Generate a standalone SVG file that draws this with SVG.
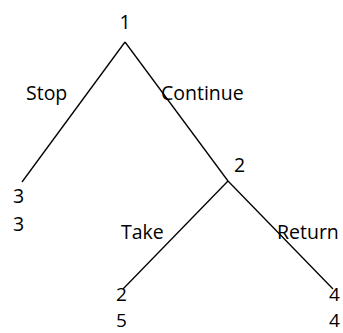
<svg xmlns="http://www.w3.org/2000/svg" width="343" height="333" viewBox="0 0 343 333">
<style>
text{font-family:"Open Sans","Liberation Sans",sans-serif;font-size:19.5px;fill:#000}
.leaf text{font-size:19px}
line{stroke:#000;stroke-width:1.3}
</style>
<rect width="343" height="333" fill="#fff"/>
<g id="connectors">
<line x1="125" y1="42" x2="22" y2="182"/>
<line x1="125" y1="42" x2="228" y2="181"/>
<line x1="228" y1="181" x2="123" y2="289"/>
<line x1="228" y1="181" x2="333" y2="289"/>
</g>
<g id="node1"><text x="125" y="29" text-anchor="middle">1</text></g>
<g id="label-stop"><text x="26" y="100">Stop</text></g>
<g id="label-continue"><text x="161" y="100">Continue</text></g>
<g id="node2"><text x="234" y="172">2</text></g>
<g id="leaf-stop"><text x="13" y="203">3</text><text x="13" y="231">3</text></g>
<g id="label-take"><text x="121" y="239">Take</text></g>
<g id="label-return"><text x="277" y="239">Return</text></g>
<g id="leaf-take" class="leaf"><text x="116" y="301">2</text><text x="116" y="327">5</text></g>
<g id="leaf-return" class="leaf"><text x="329" y="301">4</text><text x="329" y="327">4</text></g>
</svg>
